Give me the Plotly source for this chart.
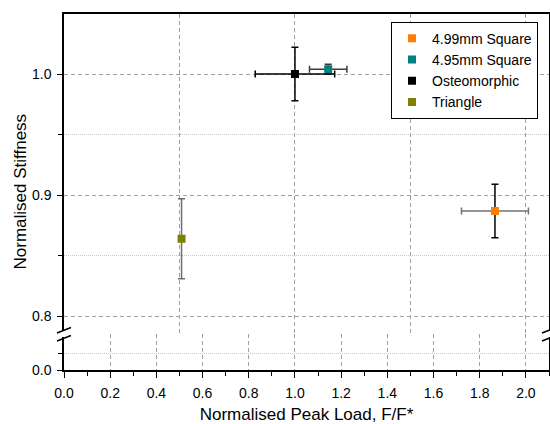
import plotly.graph_objects as go

# ---- data ----
series_names = ["4.99mm Square", "4.95mm Square", "Osteomorphic", "Triangle"]
peak_load = [1.866, 1.144, 1.000, 0.509]
peak_load_err = [0.145, 0.081, 0.172, 0.010]
stiffness = [0.887, 1.004, 1.000, 0.864]
stiffness_err = [0.022, 0.004, 0.022, 0.033]
marker_colors = ["#FF8000", "#008080", "#000000", "#808000"]
xerr_colors = ["#737373", "#3c3c3c", "#000000", "#000000"]
yerr_colors = ["#000000", "#3c3c3c", "#000000", "#6e6e6e"]

W, H = 550, 424
ML, MR, MT, MB = 64, 1, 14, 54
PW, PH = W - ML - MR, H - MT - MB
BREAK = 0.1025  # paper fraction of the axis break

FONT = "Arial, Liberation Sans, sans-serif"
GRID = "#a0a0a0"
MINGRID = "#c8c8c8"

fig = go.Figure()

# invisible trace so the lower panel exists
fig.add_trace(go.Scatter(x=[None], y=[None], xaxis="x", yaxis="y",
                         showlegend=False, hoverinfo="skip"))

for i, name in enumerate(series_names):
    fig.add_trace(go.Scatter(
        x=[peak_load[i]], y=[stiffness[i]], name=name, mode="markers",
        xaxis="x2", yaxis="y2",
        marker=dict(symbol="square", size=8, color=marker_colors[i]),
        error_x=dict(type="data", array=[peak_load_err[i]], color=xerr_colors[i],
                     thickness=1.5, width=3.5),
        error_y=dict(type="data", array=[stiffness_err[i]], color=yerr_colors[i],
                     thickness=1.5, width=3.5),
    ))

axis_common = dict(showline=True, linecolor="black", linewidth=1.5,
                   ticks="outside", tickcolor="black", tickwidth=1,
                   zeroline=False, automargin=False,
                   tickfont=dict(size=14, color="black", family=FONT))

fig.update_layout(
    width=W, height=H, autosize=False,
    margin=dict(l=ML, r=MR, t=MT, b=MB),
    paper_bgcolor="white", plot_bgcolor="white",
    font=dict(family=FONT, color="black"),
    xaxis=dict(domain=[0, 1], anchor="y", range=[0, 2.1], dtick=0.2, tick0=0,
               tickformat=".1f", showgrid=True, gridcolor=GRID, gridwidth=1,
               griddash="4px,3px", ticklen=6, ticklabelstandoff=3,
               minor=dict(dtick=0.1, ticks="outside", ticklen=4, tickcolor="black",
                          showgrid=False),
               title=dict(text="Normalised Peak Load, F/F*", font=dict(size=17),
                          standoff=13),
               **axis_common),
    xaxis2=dict(matches="x", overlaying="x", anchor="y2", side="top",
                showline=True, linecolor="black", linewidth=1.5, ticks="",
                showticklabels=False, showgrid=True, gridcolor=GRID, gridwidth=1,
                griddash="4px,3px", zeroline=False, automargin=False),
    yaxis=dict(domain=[0, BREAK], anchor="x", range=[0, 0.1074], tickvals=[0],
               tickformat=".1f", mirror=True, showgrid=False, ticklen=5,
               ticklabelstandoff=3,
               minor=dict(tickvals=[0.05], ticks="outside", ticklen=4,
                          tickcolor="black", showgrid=True, gridcolor=MINGRID,
                          griddash="1px,1px", gridwidth=1),
               **axis_common),
    yaxis2=dict(domain=[BREAK, 1], anchor="x", range=[0.7859, 1.0495],
                dtick=0.1, tick0=0.8, tickformat=".1f", mirror=True, ticklen=5,
                ticklabelstandoff=3,
                showgrid=True, gridcolor=GRID, gridwidth=1, griddash="4px,3px",
                minor=dict(dtick=0.05, ticks="outside", ticklen=4,
                           tickcolor="black", showgrid=True, gridcolor=MINGRID,
                           griddash="1px,1px", gridwidth=1),
                **axis_common),
    legend=dict(x=(391 - ML) / PW, y=(370 - 21.7) / PH, xanchor="left",
                yanchor="top", bordercolor="black", borderwidth=1,
                bgcolor="white", font=dict(size=14, family=FONT, color="black")),
    annotations=[dict(text="Normalised Stiffness", textangle=-90,
                      xref="paper", yref="paper", x=(19.5 - ML) / PW,
                      y=(370 - 192) / PH, xanchor="center", yanchor="middle",
                      showarrow=False, font=dict(size=17, family=FONT, color="black"))],
)

# axis-break decoration
def px(xp):
    return (xp - ML) / PW

def py(yp):
    return (MT + PH - yp) / PH

shapes = []
for xa in (64, 549):
    shapes.append(dict(type="rect", xref="paper", yref="paper",
                       x0=px(xa - 2.5), x1=px(xa + 2.5), y0=py(337), y1=py(331),
                       fillcolor="white", line=dict(width=0), layer="above"))
    for dy in (0, 8):
        shapes.append(dict(type="line", xref="paper", yref="paper",
                           x0=px(xa - 7), y0=py(333 + dy), x1=px(xa + 7), y1=py(327.5 + dy),
                           line=dict(color="black", width=1.5), layer="above"))
fig.update_layout(shapes=shapes)

fig.write_html("out.html")
